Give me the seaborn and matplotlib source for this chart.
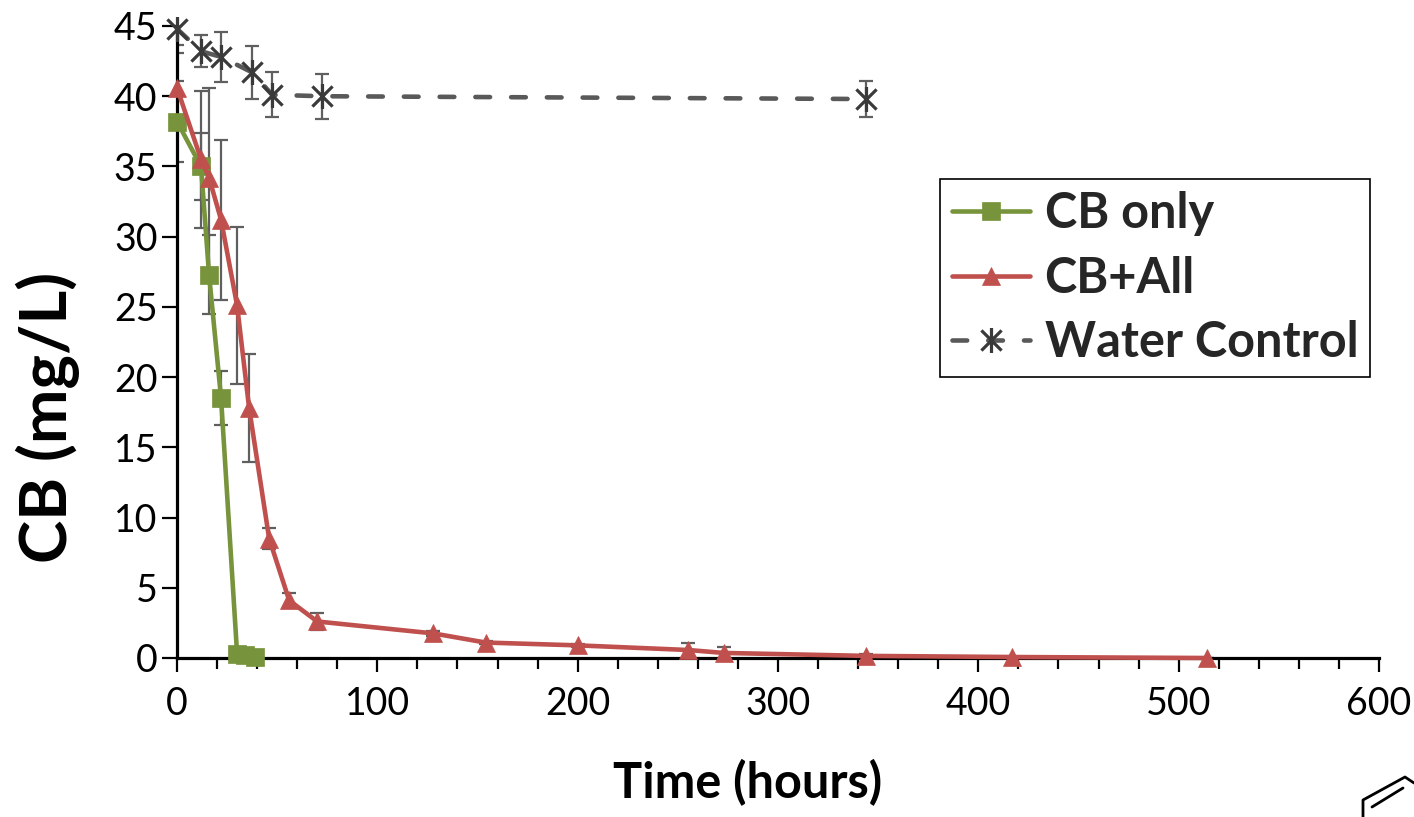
import matplotlib
matplotlib.use("Agg")
import matplotlib.pyplot as plt
from matplotlib.path import Path
from matplotlib.ticker import MultipleLocator
from matplotlib.lines import Line2D
import pandas as pd
import seaborn as sns

# ---------------- data ----------------
time_cb_only = [0, 12, 16, 22, 30, 34, 39]
cb_only = [38.2, 35.0, 27.3, 18.5, 0.3, 0.2, 0.1]
cb_only_err = [2.9, 2.4, 2.8, 1.9, 0.0, 0.0, 0.0]

time_cb_all = [0, 12, 16, 22, 30, 36, 46, 56, 70, 128, 154, 200, 255, 273, 344, 417, 514]
cb_all = [40.6, 35.5, 34.2, 31.2, 25.1, 17.8, 8.5, 4.1, 2.6, 1.75, 1.1, 0.9, 0.57, 0.36, 0.15, 0.07, 0.0]
cb_all_err = [2.5, 4.9, 6.4, 5.7, 5.6, 3.85, 0.75, 0.5, 0.6, 0.15, 0.1, 0.1, 0.5, 0.45, 0.1, 0.0, 0.0]

time_water = [0, 12, 22, 37.5, 47.5, 72.5, 344]
water = [44.8, 43.2, 42.8, 41.7, 40.1, 40.0, 39.8]
water_err = [1.15, 1.15, 1.8, 1.9, 1.6, 1.6, 1.25]

series_labels = ["CB only", "CB+All", "Water Control"]
x_ticks = [0, 100, 200, 300, 400, 500, 600]
y_ticks = [0, 5, 10, 15, 20, 25, 30, 35, 40, 45]

# ---------------- style ----------------
green = "#77933C"
red = "#C0504D"
gray = "#595959"
err_gray = "#5f5f5f"

sns.set_theme(style="white")
plt.rcParams['font.family'] = ['Lato', 'DejaVu Sans']

fig = plt.figure(figsize=(14.14, 8.17), dpi=100)
ax = fig.add_axes([177 / 1414, 1 - 658 / 817, (1379 - 177) / 1414, (658 - 26) / 817])

# asterisk-like marker: X plus vertical stroke
star_path = Path(
    [(-0.5, -0.5), (0.5, 0.5), (-0.5, 0.5), (0.5, -0.5), (0, -0.62), (0, 0.62)],
    [Path.MOVETO, Path.LINETO, Path.MOVETO, Path.LINETO, Path.MOVETO, Path.LINETO],
)

# ---------------- error bars (clipped to axes) ----------------
for xs, ys, es in [(time_water, water, water_err),
                   (time_cb_only, cb_only, cb_only_err),
                   (time_cb_all, cb_all, cb_all_err)]:
    ax.errorbar(xs, ys, yerr=es, fmt="none", ecolor=err_gray, elinewidth=1.6,
                capsize=5, capthick=1.6, zorder=3)

# ---------------- lines ----------------
df_w = pd.DataFrame({"time": time_water, "conc": water})
sns.lineplot(data=df_w, x="time", y="conc", ax=ax, color=gray, linewidth=3.3,
             linestyle=(0, (3.2, 4.6)), marker=star_path, markersize=18,
             markeredgecolor="#3a3a3a", markerfacecolor="none", markeredgewidth=2.3)
line_w = ax.lines[-1]
line_w.set_dash_capstyle("round")

df_c = pd.DataFrame({"time": time_cb_only, "conc": cb_only})
sns.lineplot(data=df_c, x="time", y="conc", ax=ax, color=green, linewidth=3.3,
             marker="s", markersize=13.5, markeredgecolor=green, markeredgewidth=0.5)
line_c = ax.lines[-1]

df_a = pd.DataFrame({"time": time_cb_all, "conc": cb_all})
sns.lineplot(data=df_a, x="time", y="conc", ax=ax, color=red, linewidth=3.3,
             marker="^", markersize=13.5, markeredgecolor=red, markeredgewidth=0.5)
line_a = ax.lines[-1]

for i, ln in enumerate([line_w, line_c, line_a]):
    ln.set_clip_on(False)
    ln.set_zorder(4 + i)

# ---------------- axes ----------------
ax.set_xlim(0, 600)
ax.set_ylim(0, 45)
ax.set_xticks(x_ticks)
ax.set_yticks(y_ticks)
ax.xaxis.set_minor_locator(MultipleLocator(20))
for s in ["top", "right"]:
    ax.spines[s].set_visible(False)
for s in ["left", "bottom"]:
    ax.spines[s].set_color("black")
    ax.spines[s].set_linewidth(2.3)
    ax.spines[s].set_zorder(3.5)

ax.tick_params(axis="both", which="major", direction="out", color="black",
               width=1.6, labelsize=27, labelcolor="black")
ax.tick_params(axis="x", which="major", length=10, pad=10, bottom=True)
ax.tick_params(axis="x", which="minor", length=8, width=1.6, color="black", bottom=True)
ax.tick_params(axis="y", which="major", length=11, pad=3, left=True)

ax.set_xlabel("Time (hours)", fontsize=35, fontweight="bold", color="black")
ax.set_ylabel("CB (mg/L)", fontsize=47, fontweight="bold", color="black")
ax.xaxis.set_label_coords((748 - 177) / 1202, (658 - 783) / 632)
ax.xaxis.label.set_va("center")
ax.yaxis.set_label_coords((48 - 177) / 1202, (658 - 417) / 632)
ax.yaxis.label.set_va("center")

leg = ax.legend(handles=[line_c, line_a, line_w], labels=series_labels,
                loc="upper left", bbox_to_anchor=((940 - 177) / 1202, (658 - 179) / 632),
                borderaxespad=0, frameon=True, fancybox=False, framealpha=1,
                edgecolor="black", handlelength=1.6, handletextpad=0.3,
                borderpad=0.25, labelspacing=0.40,
                prop={"family": "Lato", "weight": "bold", "size": 35})
leg.get_frame().set_linewidth(1.2)
leg.set_zorder(10)

# clipped structure fragment in the lower-right corner
def fx(x):
    return x / 1414

def fy(y):
    return 1 - y / 817

for xs, ys in [([1363, 1363, 1405, 1414], [817, 800, 777, 783]),
               ([1372, 1403], [807, 788])]:
    fig.add_artist(Line2D([fx(v) for v in xs], [fy(v) for v in ys],
                          transform=fig.transFigure, color="black", linewidth=2.0))

fig.savefig("out.png", dpi=100)
